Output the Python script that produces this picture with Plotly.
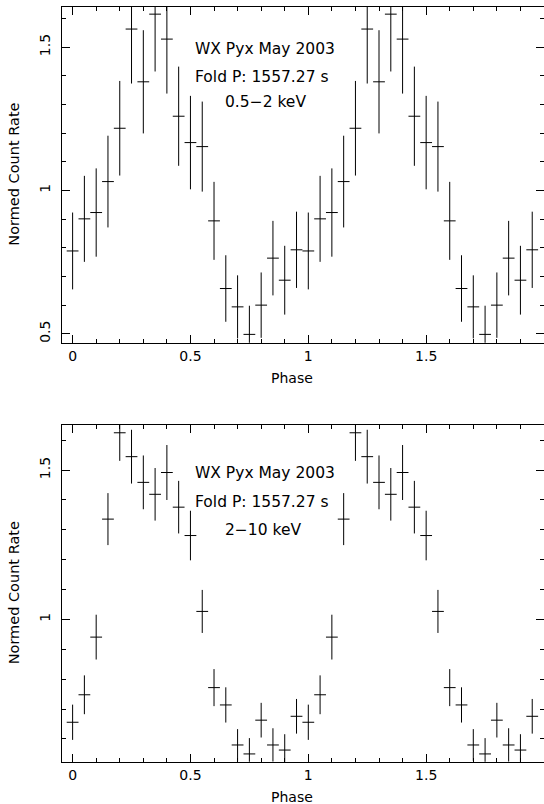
import plotly.graph_objects as go

# Phase bins (one cycle), folded twice for display
phase = [0.0, 0.05, 0.1, 0.15, 0.2, 0.25, 0.3, 0.35, 0.4, 0.45,
         0.5, 0.55, 0.6, 0.65, 0.7, 0.75, 0.8, 0.85, 0.9, 0.95]
bin_half = 0.025

# 0.5-2 keV
soft_rate = [0.789, 0.901, 0.923, 1.031, 1.217, 1.563, 1.379, 1.615, 1.528, 1.259,
             1.167, 1.153, 0.894, 0.658, 0.594, 0.498, 0.600, 0.764, 0.687, 0.793]
soft_err = [0.134, 0.150, 0.154, 0.160, 0.165, 0.190, 0.180, 0.200, 0.190, 0.173,
            0.163, 0.157, 0.136, 0.116, 0.110, 0.100, 0.114, 0.130, 0.120, 0.133]

# 2-10 keV
hard_rate = [0.656, 0.748, 0.941, 1.336, 1.625, 1.545, 1.459, 1.419, 1.492, 1.376,
             1.281, 1.027, 0.772, 0.714, 0.580, 0.550, 0.663, 0.580, 0.563, 0.676]
hard_err = [0.059, 0.065, 0.075, 0.087, 0.094, 0.090, 0.090, 0.088, 0.092, 0.088,
            0.083, 0.072, 0.062, 0.059, 0.053, 0.053, 0.058, 0.056, 0.053, 0.058]

x_tickvals = [0, 0.5, 1, 1.5]
x_ticktext = ["0", "0.5", "1", "1.5"]
top_yticks = [0.5, 1, 1.5]
bot_yticks = [1, 1.5]
title_lines = ["WX Pyx May 2003", "Fold P: 1557.27 s"]
bands = ["0.5\u22122 keV", "2\u221210 keV"]

W, H = 544, 804
FONT = "DejaVu Sans"
INK = "#000000"

x2 = [p + c for c in (0, 1) for p in phase]

def cross_trace(rate, err, xa, ya):
    return go.Scatter(
        x=x2, y=rate + rate, mode="markers", xaxis=xa, yaxis=ya,
        marker=dict(size=0.1, color="rgba(0,0,0,0)"),
        error_x=dict(type="constant", value=bin_half, width=0, thickness=1, color=INK),
        error_y=dict(type="data", array=err + err, width=0, thickness=1, color=INK),
        showlegend=False, hoverinfo="skip")

fig = go.Figure()
fig.add_trace(cross_trace(soft_rate, soft_err, "x", "y"))
fig.add_trace(cross_trace(hard_rate, hard_err, "x2", "y2"))
# invisible traces for right-side tick axes
fig.add_trace(go.Scatter(x=[0], y=[1], xaxis="x", yaxis="y3", mode="markers",
                         marker=dict(color="rgba(0,0,0,0)"), showlegend=False, hoverinfo="skip"))
fig.add_trace(go.Scatter(x=[0], y=[1], xaxis="x2", yaxis="y4", mode="markers",
                         marker=dict(color="rgba(0,0,0,0)"), showlegend=False, hoverinfo="skip"))

top_dom = [1 - 342.7 / H, 1 - 6.7 / H]
bot_dom = [1 - 761.7 / H, 1 - 425 / H]
top_range = [0.469, 1.641]
bot_range = [0.524, 1.651]
x_range = [-0.045, 2.0]

def xaxis_def(anchor, domain=None):
    return dict(range=x_range, domain=[0, 1], anchor=anchor, showgrid=False, zeroline=False,
                showline=True, linecolor=INK, linewidth=1, mirror="ticks",
                ticks="inside", ticklen=8, tickcolor=INK, tickwidth=1,
                tickvals=x_tickvals, ticktext=x_ticktext,
                minor=dict(dtick=0.1, tick0=0, ticks="inside", ticklen=4, tickcolor=INK, tickwidth=1),
                tickfont=dict(family=FONT, size=14, color=INK), automargin=False)

def yaxis_def(anchor, domain, rng, tickvals):
    return dict(range=rng, domain=domain, anchor=anchor, showgrid=False, zeroline=False,
                showline=True, linecolor=INK, linewidth=1, mirror=False,
                ticks="inside", ticklen=8, tickcolor=INK, tickwidth=1,
                tickvals=tickvals, tickangle=-90, ticklabelstandoff=5,
                minor=dict(dtick=0.1, tick0=0, ticks="inside", ticklen=4, tickcolor=INK, tickwidth=1),
                tickfont=dict(family=FONT, size=14, color=INK), automargin=False)

def yright_def(overlay, anchor, rng, tickvals):
    return dict(range=rng, overlaying=overlay, side="right", anchor=anchor, showgrid=False,
                zeroline=False, showline=False, ticks="inside", ticklen=8, tickcolor=INK,
                tickwidth=1, tickvals=tickvals, showticklabels=False,
                minor=dict(dtick=0.1, tick0=0, ticks="inside", ticklen=4, tickcolor=INK, tickwidth=1))

fig.update_layout(
    width=W, height=H,
    margin=dict(l=62, r=0, t=0, b=0),
    paper_bgcolor="white", plot_bgcolor="white",
    xaxis=xaxis_def("y"),
    xaxis2=xaxis_def("y2"),
    yaxis=yaxis_def("x", top_dom, top_range, top_yticks),
    yaxis2=yaxis_def("x2", bot_dom, bot_range, bot_yticks),
    yaxis3=yright_def("y", "x", top_range, top_yticks),
    yaxis4=yright_def("y2", "x2", bot_range, bot_yticks),
)

ann = []
# in-plot text
for (xr, yr, ys) in [("x", "y", [1.494, 1.397, 1.309]), ("x2", "y2", [1.489, 1.394, 1.299])]:
    band = bands[0] if xr == "x" else bands[1]
    ann.append(dict(x=0.51, y=ys[0], xref=xr, yref=yr, text=title_lines[0], showarrow=False,
                    xanchor="left", yanchor="middle", font=dict(family=FONT, size=15.5, color=INK)))
    ann.append(dict(x=0.51, y=ys[1], xref=xr, yref=yr, text=title_lines[1], showarrow=False,
                    xanchor="left", yanchor="middle", font=dict(family=FONT, size=15.5, color=INK)))
    ann.append(dict(x=0.636, y=ys[2], xref=xr, yref=yr, text=band, showarrow=False,
                    xanchor="left", yanchor="middle", font=dict(family=FONT, size=15.5, color=INK)))

# axis titles
for yc in [1 - 378.3 / H, 1 - 796.7 / H]:
    ann.append(dict(x=(291.7 - 62) / 482, y=yc, xref="paper", yref="paper", text="Phase",
                    showarrow=False, xanchor="center", yanchor="middle",
                    font=dict(family=FONT, size=14, color=INK)))
for yc in [1 - 174.7 / H, 1 - 593.3 / H]:
    ann.append(dict(x=(14 - 62) / 482, y=yc, xref="paper", yref="paper", text="Normed Count Rate",
                    showarrow=False, xanchor="center", yanchor="middle", textangle=-90,
                    font=dict(family=FONT, size=14.5, color=INK)))
fig.update_layout(annotations=ann)

fig.write_html("out.html")
